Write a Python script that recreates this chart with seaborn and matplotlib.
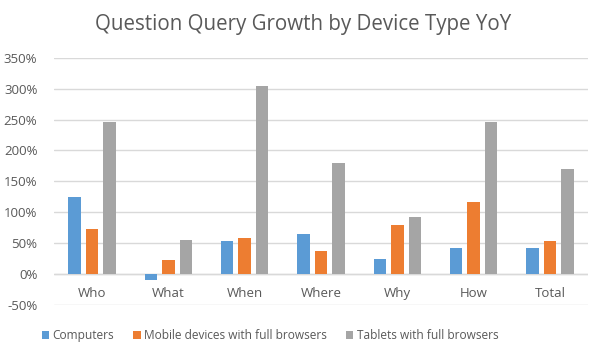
import pandas as pd
import matplotlib
matplotlib.use("Agg")
import matplotlib.pyplot as plt
import seaborn as sns
from matplotlib.ticker import FuncFormatter

categories = ["Who", "What", "When", "Where", "Why", "How", "Total"]
computers = [124, -9, 54, 65, 25, 42, 42]
mobile = [73, 23, 58, 38, 79, 116, 54]
tablets = [246, 55, 304, 180, 93, 246, 170]
series_names = ["Computers", "Mobile devices with full browsers", "Tablets with full browsers"]
yticks = [-50, 0, 50, 100, 150, 200, 250, 300, 350]

df = pd.DataFrame({
    "Question": categories * 3,
    "Device": [series_names[0]] * 7 + [series_names[1]] * 7 + [series_names[2]] * 7,
    "Growth": computers + mobile + tablets,
})

sns.set_theme(style="white")
plt.rcParams["font.family"] = ["Open Sans", "DejaVu Sans"]
text_color = "#595959"
palette = ["#5B9BD5", "#ED7D31", "#A5A5A5"]

fig = plt.figure(figsize=(6, 3.52), dpi=100)
ax = fig.add_axes([0.09, 0.1335, 0.89, 0.7025])

sns.barplot(data=df, x="Question", y="Growth", hue="Device", palette=palette,
            width=0.69, gap=0.29, saturation=1, linewidth=0, ax=ax, zorder=3, legend=True)

ax.set_ylim(-50, 350)
ax.set_xlim(-0.5, 6.5)
ax.set_yticks(yticks)
ax.yaxis.set_major_formatter(FuncFormatter(lambda v, p: f"{int(v)}%"))
ax.grid(axis="y", color="#D9D9D9", linewidth=1, zorder=0)
ax.axhline(0, color="#D9D9D9", linewidth=1, zorder=1)
for s in ax.spines.values():
    s.set_visible(False)
ax.tick_params(axis="both", length=0, labelsize=9.5, colors=text_color)
ax.tick_params(axis="y", pad=12)
ax.set_xlabel("")
ax.set_ylabel("")

# x labels sit just below zero line
ax.set_xticks(range(len(categories)))
ax.set_xticklabels([])
for i, c in enumerate(categories):
    ax.text(i, -31, c, ha="center", va="center", fontsize=9.5, color=text_color)

handles, labels = ax.get_legend_handles_labels()
ax.legend(handles, labels, loc="upper center", bbox_to_anchor=(0.405, -0.055),
          ncol=3, frameon=False, fontsize=8.6, labelcolor=text_color,
          handlelength=0.6, handleheight=0.6, handletextpad=0.3, columnspacing=1.6)

fig.suptitle("Question Query Growth by Device Type YoY", x=0.505, y=0.96,
             fontsize=14.8, color=text_color)

fig.savefig("out.png", dpi=100)
